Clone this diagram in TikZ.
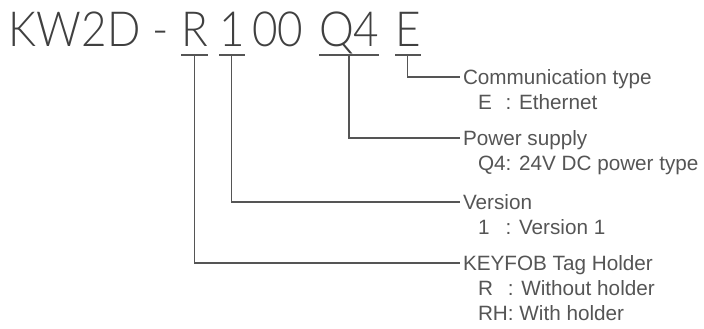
\documentclass[tikz,border=0pt]{standalone}
\usepackage{fontspec}
\setmainfont{Liberation Sans}
\newfontfamily\titlefont{Lato Light}
\usetikzlibrary{positioning}
\definecolor{leadgray}{HTML}{555555}
\definecolor{textgray}{HTML}{555555}
\definecolor{titlegray}{HTML}{404040}
\newcommand{\tallpart}[1]{\scalebox{1}[1.1]{#1}}
\begin{document}
\begin{tikzpicture}[x=1pt,y=-1pt,
          every node/.style = {inner sep = 0pt,
                               outer sep = 0pt},
          part/.style       = {anchor = base west,
                               text   = titlegray,
                               font   = \titlefont\fontsize{44}{50}\selectfont},
          field/.style      = {anchor      = west,
                               outer xsep  = 3pt,
                               text height = 15pt,
                               text depth  = 0pt,
                               text        = textgray,
                               font        = \fontsize{20.7}{25}\selectfont},
          code/.style       = {anchor = base west,
                               text   = textgray,
                               font   = \fontsize{20.7}{25}\selectfont},
          lead/.style       = {draw       = leadgray,
                               line width = 1.4pt}]
  \useasboundingbox (0,0) rectangle (704,329);

  % model number, one node per field
  \node[part] (kw)  at (9,47)   {\tallpart{KW2D -}};
  \node[part] (r)   at (181,47) {\tallpart{R}};
  \node[part] (one) at (219,47) {\tallpart{1}};
  \node[part] (zz)  at (252,47) {\tallpart{00}};
  \node[part] (q)   at (319,47) {\tallpart{Q4}};
  \node[part] (e)   at (395,47) {\tallpart{E}};

  % field headings
  \node[field] (comm)   at (460,77)  {Communication type};
  \node[field] (power)  at (460,138) {Power supply};
  \node[field] (vers)   at (460,202) {Version};
  \node[field] (holder) at (460,263) {KEYFOB Tag Holder};

  % codes
  \node[code] (commE)   at ([xshift=18pt,yshift=-25pt]comm.base west)   {\rlap{E}\phantom{Q4}: Ethernet};
  \node[code] (powerQ)  at ([xshift=18pt,yshift=-25pt]power.base west)  {Q4: 24V DC power type};
  \node[code] (versOne) at ([xshift=18pt,yshift=-25pt]vers.base west)   {\rlap{1}\phantom{Q4}: Version 1};
  \node[code] (holdR)   at ([xshift=18pt,yshift=-25pt]holder.base west) {\rlap{R}\phantom{RH}: Without holder};
  \node[code] (holdRH)  at ([yshift=-25pt]holdR.base west)              {RH: With holder};

  % underlines and leaders
  \foreach \p/\t in {r/holder, one/vers, q/power, e/comm}{
    \draw[lead] ([yshift=-8pt]\p.base west) -- ([yshift=-8pt]\p.base east);
    \draw[lead] ([yshift=-8pt]\p.base) |- (\t.west);
  }
\end{tikzpicture}
\end{document}
